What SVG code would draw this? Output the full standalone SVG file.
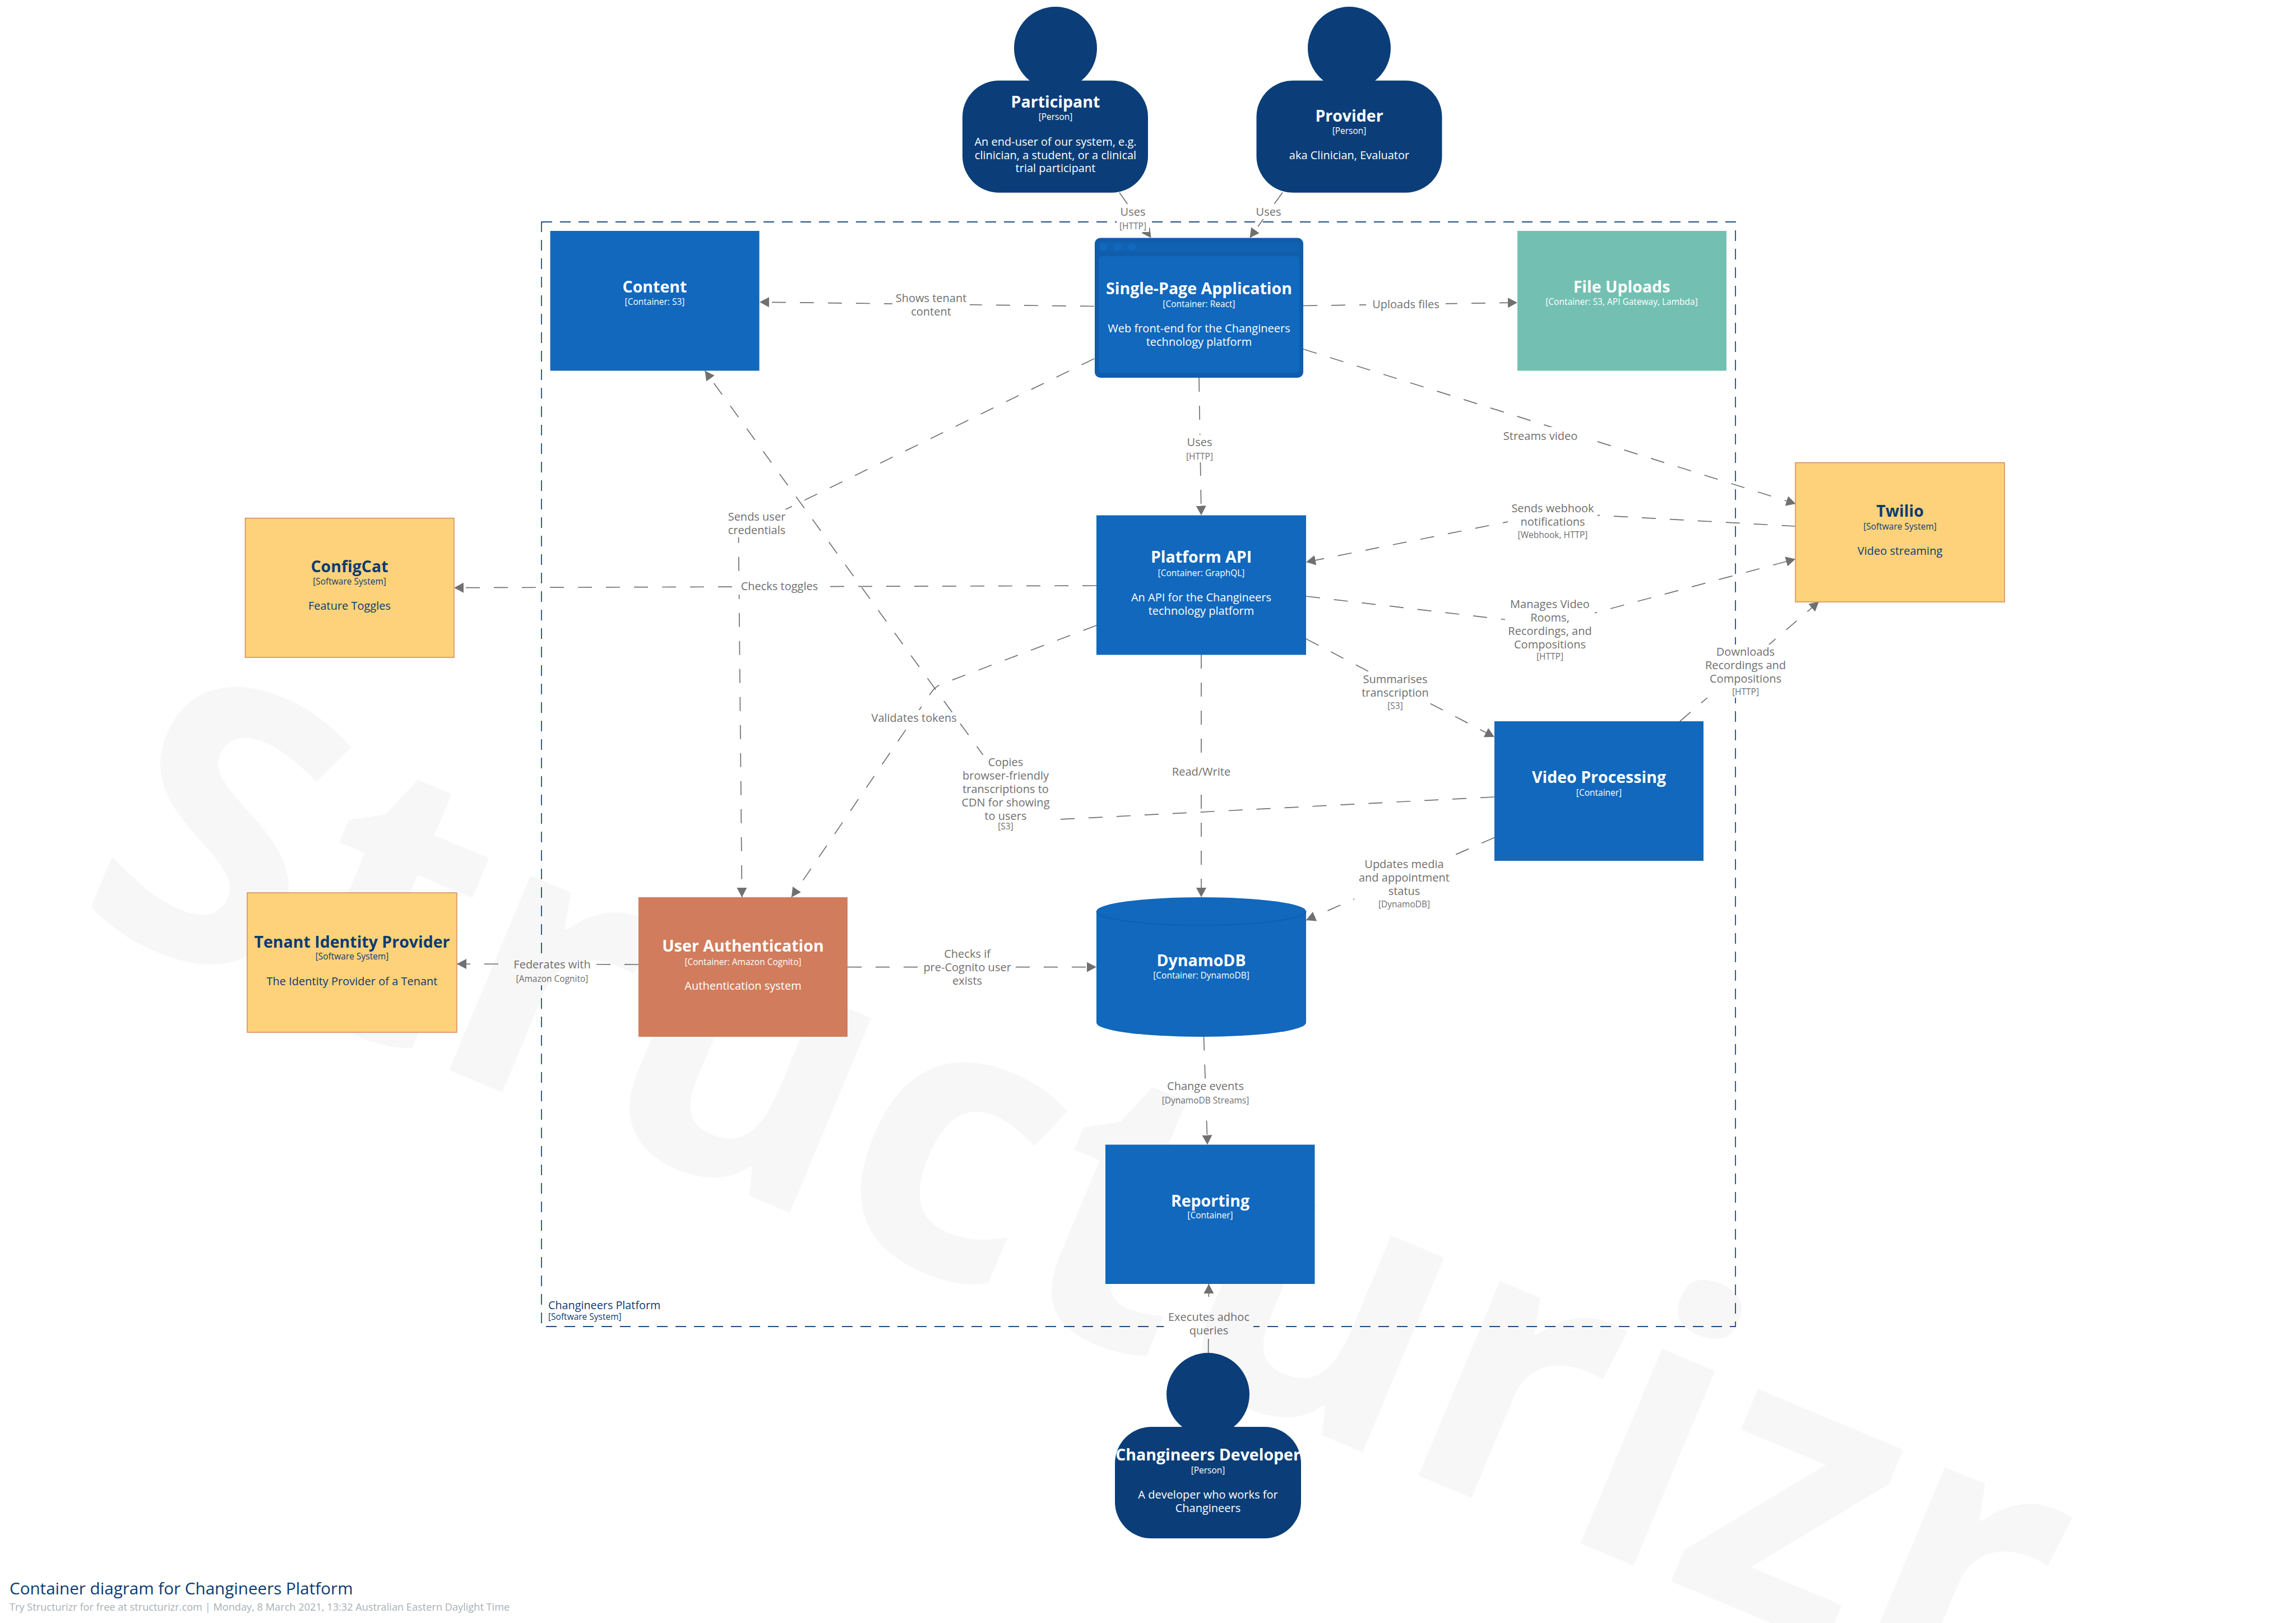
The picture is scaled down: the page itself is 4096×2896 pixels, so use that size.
<svg xmlns="http://www.w3.org/2000/svg" width="4096" height="2896" viewBox="0 0 4096 2896">
<style>
text{font-family:"Open Sans","Liberation Sans",sans-serif;text-anchor:middle}
.line{fill:none;stroke:#707070;stroke-width:1.7;stroke-dasharray:25 25;marker-end:url(#arrow)}
.bg{fill:#fff}
.lbl{font-size:20px;fill:#707070}
.tech{font-size:15.5px;fill:#707070}
.name{font-size:28.5px;font-weight:700;fill:#fff}
.meta{font-size:15.5px;fill:#fff}
.desc{font-size:20px;fill:#fff}
.dark .name,.dark .meta,.dark .desc{fill:#0b3b72}
.blue{fill:#1168bd}
.person{fill:#0b3e78}
.ext{fill:#fdd27a;stroke:#d6885c;stroke-width:1.5}
</style>
<defs>
<marker id="arrow" markerUnits="userSpaceOnUse" markerWidth="18" markerHeight="18" refX="17" refY="9" orient="auto"><path d="M0 0L17 9L0 18Z" fill="#707070"/></marker>
</defs>
<rect width="4096" height="2896" fill="#fff"/>
<g id="boundary">
<rect x="966" y="396" width="2130" height="1971" fill="none" stroke="#1f4c80" stroke-width="1.8" stroke-dasharray="19 14"/>
<text x="978" y="2336" style="text-anchor:start;font-size:19.8px;fill:#0b3b72">Changineers Platform</text>
<text x="978" y="2355" style="text-anchor:start;font-size:15.5px;fill:#0b3b72">[Software System]</text>
</g>
<g id="connectors">
<g id="c-participant-spa"><path class="line" d="M1997 343.5L2053.5 424.5"/><rect class="bg" x="1992" y="365" width="58" height="49"/><text class="lbl" x="2021" y="385">Uses</text><text class="tech" x="2021" y="409">[HTTP]</text></g>
<g id="c-provider-spa"><path class="line" d="M2288 343.5L2229.5 424.5"/><rect class="bg" x="2234" y="365" width="58" height="26"/><text class="lbl" x="2263" y="385">Uses</text></g>
<g id="c-spa-content"><path class="line" d="M1952 546.5L1355 539"/><rect class="bg" x="1592" y="519" width="138" height="50"/><text class="lbl" x="1661" y="539"><tspan x="1661">Shows tenant</tspan><tspan x="1661" dy="24">content</tspan></text></g>
<g id="c-spa-files"><path class="line" d="M2325 545.5L2707 540"/><rect class="bg" x="2437" y="530" width="142" height="26"/><text class="lbl" x="2508" y="550">Uploads files</text></g>
<g id="c-spa-twilio"><path class="line" d="M2325 623L3203.5 899"/><rect class="bg" x="2668" y="762" width="160" height="32"/><text class="lbl" x="2748" y="785">Streams video</text></g>
<g id="c-spa-api"><path class="line" d="M2139 674L2143 919.5"/><rect class="bg" x="2110" y="776" width="60" height="49"/><text class="lbl" x="2140" y="796">Uses</text><text class="tech" x="2140" y="820">[HTTP]</text></g>
<g id="c-spa-auth"><path class="line" d="M1952 640L1317.5 950L1323.6 1601"/><rect class="bg" x="1292" y="909" width="115" height="50"/><text class="lbl" x="1350" y="929"><tspan x="1350">Sends user</tspan><tspan x="1350" dy="24">credentials</tspan></text></g>
<g id="c-api-configcat"><path class="line" d="M1956 1045L810 1048.7"/><rect class="bg" x="1312" y="1031" width="158" height="30"/><text class="lbl" x="1390.5" y="1053">Checks toggles</text></g>
<g id="c-twilio-api"><path class="line" d="M3203.5 939L2770 915L2330 1003"/><rect class="bg" x="2690" y="893.5" width="160" height="71"/><text class="lbl" x="2770" y="913.5"><tspan x="2770">Sends webhook</tspan><tspan x="2770" dy="24">notifications</tspan></text><text class="tech" x="2770" y="960">[Webhook, HTTP]</text></g>
<g id="c-api-twilio"><path class="line" d="M2330 1064L2765 1115L3203 997.5"/><rect class="bg" x="2685" y="1065" width="160" height="117"/><text class="lbl" x="2765" y="1085"><tspan x="2765">Manages Video</tspan><tspan x="2765" dy="24">Rooms,</tspan><tspan x="2765" dy="24">Recordings, and</tspan><tspan x="2765" dy="24">Compositions</tspan></text><text class="tech" x="2765" y="1177">[HTTP]</text></g>
<g id="c-api-video"><path class="line" d="M2330 1140L2666 1315"/><rect class="bg" x="2429" y="1199" width="120" height="71"/><text class="lbl" x="2489" y="1219"><tspan x="2489">Summarises</tspan><tspan x="2489" dy="24">transcription</tspan></text><text class="tech" x="2489" y="1265">[S3]</text></g>
<g id="c-video-twilio"><path class="line" d="M2997 1287L3245 1073.5"/><rect class="bg" x="3036" y="1150" width="156" height="95"/><text class="lbl" x="3114" y="1170"><tspan x="3114">Downloads</tspan><tspan x="3114" dy="24">Recordings and</tspan><tspan x="3114" dy="24">Compositions</tspan></text><text class="tech" x="3114" y="1240">[HTTP]</text></g>
<g id="c-api-auth"><path class="line" d="M1956 1116L1680 1220.5Q1668.5 1225 1661 1236L1412 1601"/><rect class="bg" x="1554" y="1267" width="153" height="27"/><text class="lbl" x="1630.6" y="1288">Validates tokens</text></g>
<g id="c-video-content"><path class="line" d="M2666 1422L1794 1467L1794 1403L1257.5 661.5"/><rect class="bg" x="1709" y="1347" width="170" height="138"/><text class="lbl" x="1794" y="1367"><tspan x="1794">Copies</tspan><tspan x="1794" dy="24">browser-friendly</tspan><tspan x="1794" dy="24">transcriptions to</tspan><tspan x="1794" dy="24">CDN for showing</tspan><tspan x="1794" dy="24">to users</tspan></text><text class="tech" x="1794" y="1480">[S3]</text></g>
<g id="c-api-dynamo"><path class="line" d="M2143 1168L2143 1601"/><rect class="bg" x="2093" y="1345" width="100" height="68"/><text class="lbl" x="2143" y="1384">Read/Write</text></g>
<g id="c-video-dynamo"><path class="line" d="M2666 1494.5L2330 1642"/><rect class="bg" x="2416" y="1529" width="178" height="96"/><text class="lbl" x="2505" y="1549"><tspan x="2505">Updates media</tspan><tspan x="2505" dy="24">and appointment</tspan><tspan x="2505" dy="24">status</tspan></text><text class="tech" x="2505" y="1619">[DynamoDB]</text></g>
<g id="c-auth-dynamo"><path class="line" d="M1512 1725.6L1956 1725.6"/><rect class="bg" x="1642" y="1689" width="168" height="74"/><text class="lbl" x="1725.6" y="1709"><tspan x="1725.6">Checks if</tspan><tspan x="1725.6" dy="24">pre-Cognito user</tspan><tspan x="1725.6" dy="24">exists</tspan></text></g>
<g id="c-auth-tenant"><path class="line" d="M1139 1721L815 1720"/><rect class="bg" x="910" y="1708" width="150" height="50"/><text class="lbl" x="985" y="1728">Federates with</text><text class="tech" x="985" y="1752">[Amazon Cognito]</text></g>
<g id="c-dynamo-reporting"><path class="line" d="M2147.5 1849.6L2154 2042.5"/><rect class="bg" x="2064" y="1925" width="172" height="50"/><text class="lbl" x="2150.5" y="1945">Change events</text><text class="tech" x="2150.5" y="1969">[DynamoDB Streams]</text></g>
<g id="c-dev-reporting"><path class="line" d="M2155.6 2414L2156.5 2291"/><rect class="bg" x="2076" y="2337" width="160" height="49"/><text class="lbl" x="2156.5" y="2357"><tspan x="2156.5">Executes adhoc</tspan><tspan x="2156.5" dy="24">queries</tspan></text></g>
</g>
<text id="watermark" transform="rotate(22.7 1844 2346)" x="1844" y="2346" style="font-size:690px;font-weight:700;fill:#000;fill-opacity:.03">Structurizr</text>
<g id="participant"><circle class="person" cx="1883" cy="86" r="74"/><rect class="person" x="1717" y="143.7" width="331" height="200" rx="65"/><text class="name" x="1883" y="192">Participant</text><text class="meta" x="1883" y="214">[Person]</text><text class="desc" x="1883" y="260"><tspan x="1883">An end-user of our system, e.g.</tspan><tspan x="1883" dy="23.7">clinician, a student, or a clinical</tspan><tspan x="1883" dy="23.7">trial participant</tspan></text></g>
<g id="provider"><circle class="person" cx="2407" cy="86" r="74"/><rect class="person" x="2241.5" y="143.7" width="331" height="200" rx="65"/><text class="name" x="2407" y="217">Provider</text><text class="meta" x="2407" y="239">[Person]</text><text class="desc" x="2407" y="284">aka Clinician, Evaluator</text></g>
<g id="spa"><rect x="1953" y="424.5" width="372" height="249.5" rx="10" fill="#0f5dab"/><circle cx="1968" cy="441" r="7" class="blue"/><circle cx="1994" cy="441" r="7" class="blue"/><circle cx="2019" cy="441" r="7" class="blue"/><rect x="1961" y="432" width="356" height="17" rx="4" class="blue" opacity=".4"/><rect class="blue" x="1960" y="457" width="358" height="208" rx="5"/><text class="name" x="2139" y="525">Single-Page Application</text><text class="meta" x="2139" y="548">[Container: React]</text><text class="desc" x="2139" y="593"><tspan x="2139">Web front-end for the Changineers</tspan><tspan x="2139" dy="24">technology platform</tspan></text></g>
<g id="content"><rect class="blue" x="981.6" y="412" width="373" height="249.5"/><text class="name" x="1168" y="522">Content</text><text class="meta" x="1168" y="544">[Container: S3]</text></g>
<g id="file-uploads"><rect x="2707" y="412" width="373" height="249.5" fill="#73c0b2"/><text class="name" x="2893" y="522">File Uploads</text><text class="meta" x="2893" y="544">[Container: S3, API Gateway, Lambda]</text></g>
<g id="platform-api"><rect class="blue" x="1956" y="919.5" width="374" height="249"/><text class="name" x="2143" y="1004">Platform API</text><text class="meta" x="2143" y="1028">[Container: GraphQL]</text><text class="desc" x="2143" y="1073"><tspan x="2143">An API for the Changineers</tspan><tspan x="2143" dy="24">technology platform</tspan></text></g>
<g id="twilio" class="dark"><rect class="ext" x="3203" y="825.6" width="373" height="248.5"/><text class="name" x="3389.5" y="922">Twilio</text><text class="meta" x="3389.5" y="945">[Software System]</text><text class="desc" x="3389.5" y="990">Video streaming</text></g>
<g id="configcat" class="dark"><rect class="ext" x="437.5" y="924.6" width="372.5" height="248.5"/><text class="name" x="623.5" y="1021">ConfigCat</text><text class="meta" x="623.5" y="1043">[Software System]</text><text class="desc" x="623.5" y="1088">Feature Toggles</text></g>
<g id="tenant-idp" class="dark"><rect class="ext" x="441" y="1593" width="374" height="249"/><text class="name" x="628" y="1691">Tenant Identity Provider</text><text class="meta" x="628" y="1712">[Software System]</text><text class="desc" x="628" y="1758">The Identity Provider of a Tenant</text></g>
<g id="user-auth"><rect x="1139" y="1601" width="373" height="249" fill="#d17c5c"/><text class="name" x="1325.5" y="1698">User Authentication</text><text class="meta" x="1325.5" y="1722">[Container: Amazon Cognito]</text><text class="desc" x="1325.5" y="1766">Authentication system</text></g>
<g id="dynamodb"><path class="blue" d="M1956 1626A187 25 0 0 1 2330 1626V1825A187 25 0 0 1 1956 1825Z"/><path d="M1956 1626A187 25 0 0 0 2330 1626" fill="none" stroke="#0f5dab" stroke-width="1.5"/><text class="name" x="2143" y="1724">DynamoDB</text><text class="meta" x="2143" y="1746">[Container: DynamoDB]</text></g>
<g id="video-processing"><rect class="blue" x="2666" y="1287" width="373" height="249"/><text class="name" x="2852.5" y="1397">Video Processing</text><text class="meta" x="2852.5" y="1420">[Container]</text></g>
<g id="reporting"><rect class="blue" x="1972" y="2042.5" width="373.5" height="248.5"/><text class="name" x="2159" y="2152.6">Reporting</text><text class="meta" x="2159" y="2174">[Container]</text></g>
<g id="developer"><circle class="person" cx="2155" cy="2488" r="74"/><rect class="person" x="1989" y="2546" width="332" height="199" rx="65"/><text class="name" x="2155" y="2606">Changineers Developer</text><text class="meta" x="2155" y="2629">[Person]</text><text class="desc" x="2155" y="2674"><tspan x="2155">A developer who works for</tspan><tspan x="2155" dy="24">Changineers</tspan></text></g>
<g id="footer"><text x="17" y="2845" style="text-anchor:start;font-size:29.6px;fill:#0b3b72">Container diagram for Changineers Platform</text><text x="17" y="2874" style="text-anchor:start;font-size:18.2px;fill:#a9b0b5">Try Structurizr for free at structurizr.com | Monday, 8 March 2021, 13:32 Australian Eastern Daylight Time</text></g>
</svg>
